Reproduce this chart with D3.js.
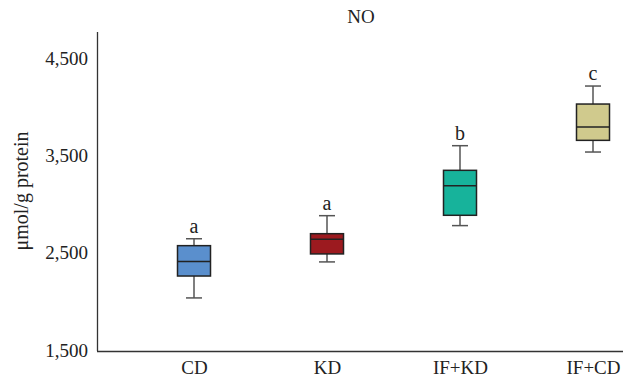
<!DOCTYPE html>
<html><head><meta charset="utf-8">
<script src="https://cdn.jsdelivr.net/npm/d3@7"></script>
<style>body{margin:0;background:#fff;} svg{display:block;}</style>
</head><body>
<svg id="c" width="623" height="383"></svg>
<script>
const categories = ["CD", "KD", "IF+KD", "IF+CD"];
const whiskerLow  = [2035, 2405, 2778, 3534];
const q1          = [2260, 2487, 2884, 3654];
const median      = [2408, 2637, 3188, 3791];
const q3          = [2572, 2695, 3346, 4027];
const whiskerHigh = [2643, 2880, 3599, 4212];
const letters     = ["a", "a", "b", "c"];
const colors      = ["#5a8fcd", "#9c1a1f", "#17b39b", "#d0ca8d"];
const yTicks      = [1500, 2500, 3500, 4500];

const svg = d3.select("#c");
const font = "'Liberation Serif','DejaVu Serif',serif";
const x = d3.scalePoint().domain(categories).range([194, 593]);
const y = d3.scaleLinear().domain([1500, 4500]).range([350, 58]);

// axes lines
svg.append("line").attr("x1",97.5).attr("x2",97.5).attr("y1",32).attr("y2",351).attr("stroke","#333").attr("stroke-width",1.3);
svg.append("line").attr("x1",97).attr("x2",623).attr("y1",351.5).attr("y2",351.5).attr("stroke","#333").attr("stroke-width",1.3);

const yAxis = svg.append("g").attr("transform","translate(97,0)")
  .call(d3.axisLeft(y).tickValues(yTicks).tickSize(0).tickPadding(9).tickFormat(d3.format(",")));
yAxis.select(".domain").remove();
yAxis.selectAll("text").attr("font-family",font).attr("font-size",19).attr("fill","#222");

const xAxis = svg.append("g").attr("transform","translate(0,351)")
  .call(d3.axisBottom(x).tickSize(0).tickPadding(10));
xAxis.select(".domain").remove();
xAxis.selectAll("text").attr("font-family",font).attr("font-size",19).attr("fill","#222");

const bw = 33;
const g = svg.append("g");
categories.forEach((c,i)=>{
  const cx = x(c);
  const s = g.append("g");
  s.append("line").attr("x1",cx).attr("x2",cx).attr("y1",y(whiskerLow[i])).attr("y2",y(whiskerHigh[i])).attr("stroke","#555").attr("stroke-width",1.5);
  [whiskerLow[i], whiskerHigh[i]].forEach(v=>{
    s.append("line").attr("x1",cx-8).attr("x2",cx+8).attr("y1",y(v)).attr("y2",y(v)).attr("stroke","#555").attr("stroke-width",1.5);
  });
  s.append("rect").attr("x",cx-bw/2).attr("width",bw).attr("y",y(q3[i])).attr("height",y(q1[i])-y(q3[i]))
    .attr("fill",colors[i]).attr("stroke","#222").attr("stroke-width",1.5);
  s.append("line").attr("x1",cx-bw/2).attr("x2",cx+bw/2).attr("y1",y(median[i])).attr("y2",y(median[i])).attr("stroke","#222").attr("stroke-width",1.5);
  s.append("text").attr("x",cx).attr("y",y(whiskerHigh[i])-6).attr("text-anchor","middle")
    .attr("font-family",font).attr("font-size",20).attr("fill","#222").text(letters[i]);
});

svg.append("text").attr("x",361).attr("y",23).attr("text-anchor","middle").attr("font-family",font).attr("font-size",19).attr("fill","#222").text("NO");
svg.append("text").attr("transform","translate(28,191) rotate(-90)").attr("text-anchor","middle").attr("font-family",font).attr("font-size",20).attr("fill","#222").text("μmol/g protein");
</script>
</body></html>
